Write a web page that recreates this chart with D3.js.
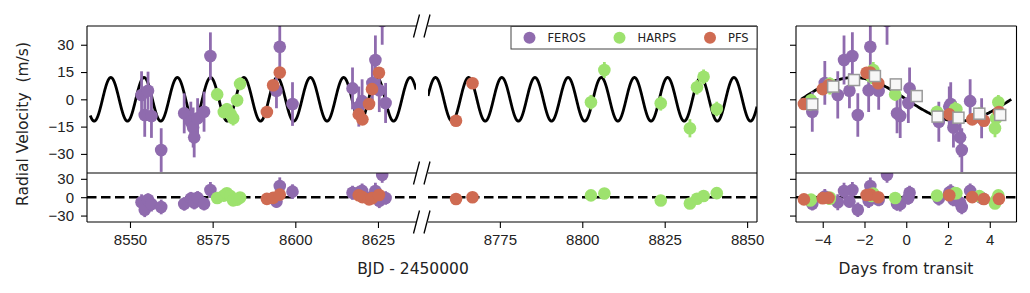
<!DOCTYPE html>
<html>
<head>
<meta charset="utf-8">
<script src="https://cdn.jsdelivr.net/npm/d3@7"></script>
<style>
body { margin: 0; background: #fff; }
svg { font-family: "DejaVu Sans", sans-serif; }
</style>
</head>
<body>
<div class="container"></div>
<script>
// orbit used for the model curve, the phase fold and the residuals
const P = 10.06, TC = 8556.78, K = 12;

const ferosT   = [8553.5, 8554.46, 8555.46, 8556.49, 8559.44, 8566.4, 8568.4, 8569.1, 8569.42, 8570.45, 8572.4, 8574.32, 8594.3, 8595.3, 8599.15, 8617.3, 8619.2, 8620.2, 8623.3, 8624.22, 8625.4, 8626.28, 8627.3];
const ferosRV  = [2.4, -8.6, 4.7, -9.2, -27.9, -7.7, -12.3, -15.5, -20.9, -10.4, -6.8, 23.8, 4.7, 28.9, -2.6, 6.0, -4.0, -1.0, 9.0, 21.6, 5.0, 43, -2.0];
const ferosErr = [13, 12, 10.5, 12, 12, 11, 11, 11, 11, 11, 11, 13, 9.6, 14, 12, 11.5, 11, 12, 12, 13.5, 12, 13, 11];

const harpsT   = [8576.37, 8578.37, 8579.3, 8580.4, 8581.2, 8582.4, 8583.3, 8802.63, 8806.7, 8823.8, 8832.65, 8834.8, 8836.8, 8840.8];
const harpsRV  = [2.7, -7.0, -5.5, -8.0, -10.4, -0.5, 8.5, -1.6, 16.1, -2.2, -15.9, 6.6, 12.4, -5.3];
const harpsErr = [3.5, 3.5, 3.5, 3.5, 4, 3.5, 3.5, 4, 4.4, 4, 5, 4, 4, 4];

const pfsT   = [8591.4, 8593.3, 8595.3, 8619.2, 8620.3, 8622.3, 8623.2, 8625.3, 8761.7, 8766.7];
const pfsRV  = [-7.0, 7.7, 14.7, -8.3, -11.0, -2.6, 5.6, 14.6, -11.8, 8.8];
const pfsErr = [1.5, 1.5, 1.5, 1.5, 1.5, 1.5, 1.5, 1.5, 1.5, 1.5];

const binPhase = [-4.5, -3.5, -2.5, -1.5, -0.5, 0.5, 1.5, 2.5, 3.5, 4.5];
const binRV    = [-2.7, 7.0, 10.6, 12.8, 8.2, 1.8, -9.5, -10.1, -7.9, -8.6];

const instNames = ["FEROS", "HARPS", "PFS"];
const instColors = ["#8f6bae", "#9de26e", "#cf6b52"];

const rvTicks = [-30, -15, 0, 15, 30];
const resTicks = [-30, 0, 30];
const timeTicksA = [8550, 8575, 8600, 8625];
const timeTicksB = [8775, 8800, 8825, 8850];
const phaseTicks = [-4, -2, 0, 2, 4];

const model = t => -K * Math.sin(2 * Math.PI * (t - TC) / P);
const phase = t => { let p = (((t - TC) % P) + P) % P; return p > P / 2 ? p - P : p; };

const insts = [
    {t: ferosT, rv: ferosRV, err: ferosErr},
    {t: harpsT, rv: harpsRV, err: harpsErr},
    {t: pfsT, rv: pfsRV, err: pfsErr}
].map((d, i) => ({
    name: instNames[i], color: instColors[i],
    pts: d.t.map((t, j) => ({t: t, ph: phase(t), rv: d.rv[j], res: d.rv[j] - model(t), err: d.err[j]}))
}));

const width = 1030, height = 293;
const svg = d3.select('.container').append('svg')
    .attr('width', width).attr('height', height);

const yTop = d3.scaleLinear().domain([-40.5, 40.3]).range([173, 26]);
const yRes = d3.scaleLinear().domain([-40.5, 39.5]).range([222, 173]);
const xA = d3.scaleLinear().domain([8537, 8636.5]).range([87, 416]);
const xB = d3.scaleLinear().domain([8753.2, 8853]).range([428, 757]);
const xPh = d3.scaleLinear().domain([-5.28, 5.28]).range([796, 1016.5]);

let clipN = 0;
const panel = (x, y, key, val) => {
    const id = 'clip' + (clipN++);
    const [x0, x1] = x.range(), [y1, y0] = y.range();
    svg.append('clipPath').attr('id', id).append('rect')
        .attr('x', x0).attr('y', y0).attr('width', x1 - x0).attr('height', y1 - y0);
    const g = svg.append('g').attr('clip-path', `url(#${id})`);

    if (val === 'rv') {
        const dom = key === 'ph' ? [-P / 2, P / 2] : [Math.max(x.domain()[0], 8538), x.domain()[1]];
        const xs = d3.range(dom[0], dom[1] + 0.02, 0.02);
        g.append('path')
            .datum(xs)
            .attr('fill', 'none').attr('stroke', '#000').attr('stroke-width', 2.8)
            .attr('d', d3.line().x(d => x(d)).y(d => y(model(key === 'ph' ? d + TC : d))));
    } else {
        g.append('line')
            .attr('x1', x0).attr('x2', x1).attr('y1', y(0)).attr('y2', y(0))
            .attr('stroke', '#000').attr('stroke-width', 2.6).attr('stroke-dasharray', '9.5,4.5');
    }

    insts.forEach(inst => {
        g.selectAll(null).data(inst.pts).enter().append('line')
            .attr('x1', d => x(d[key])).attr('x2', d => x(d[key]))
            .attr('y1', d => y(d[val] - d.err)).attr('y2', d => y(d[val] + d.err))
            .attr('stroke', inst.color).attr('stroke-width', 2.8);
        g.selectAll(null).data(inst.pts).enter().append('circle')
            .attr('cx', d => x(d[key])).attr('cy', d => y(d[val]))
            .attr('r', 6.3).attr('fill', inst.color);
    });

    if (key === 'ph' && val === 'rv') {
        g.selectAll(null).data(binPhase).enter().append('rect')
            .attr('x', (d, i) => x(d) - 5.5).attr('y', (d, i) => y(binRV[i]) - 5.5)
            .attr('width', 11).attr('height', 11)
            .attr('fill', '#f7f7f7').attr('stroke', '#9a9a9a').attr('stroke-width', 1.5);
    }
};

[xA, xB].forEach(x => { panel(x, yTop, 't', 'rv'); panel(x, yRes, 't', 'res'); });
panel(xPh, yTop, 'ph', 'rv');
panel(xPh, yRes, 'ph', 'res');

// spines
const spine = (x1, y1, x2, y2) => svg.append('line')
    .attr('x1', x1).attr('y1', y1).attr('x2', x2).attr('y2', y2)
    .attr('stroke', '#000').attr('stroke-width', 1.1);
[26, 173, 222].forEach(yy => {
    spine(87, yy, 416, yy);
    spine(428, yy, 757, yy);
    spine(796, yy, 1016.5, yy);
});
spine(87, 26, 87, 222);
spine(757, 26, 757, 222);
spine(796, 26, 796, 222);
spine(1016.5, 26, 1016.5, 222);

// break marks
[26, 173, 222].forEach(yy => [416.5, 427].forEach(cx => {
    svg.append('line')
        .attr('x1', cx - 3).attr('y1', yy + 11.5).attr('x2', cx + 3).attr('y2', yy - 11.5)
        .attr('stroke', '#000').attr('stroke-width', 1.3);
}));

// axes
const styleAxis = g => {
    g.select('.domain').remove();
    g.selectAll('.tick line').attr('stroke', '#000').attr('stroke-width', 1.1);
    g.selectAll('.tick text').attr('fill', '#222').style('font-size', '15px');
};
svg.append('g').attr('transform', 'translate(87,0)')
    .call(d3.axisLeft(yTop).tickValues(rvTicks).tickSize(6).tickPadding(7)).call(styleAxis);
svg.append('g').attr('transform', 'translate(87,0)')
    .call(d3.axisLeft(yRes).tickValues(resTicks).tickSize(6).tickPadding(7)).call(styleAxis);
svg.append('g').attr('transform', 'translate(796,0)')
    .call(d3.axisLeft(yTop).tickValues(rvTicks).tickSize(6).tickFormat('')).call(styleAxis);
svg.append('g').attr('transform', 'translate(796,0)')
    .call(d3.axisLeft(yRes).tickValues(resTicks).tickSize(6).tickFormat('')).call(styleAxis);
svg.append('g').attr('transform', 'translate(0,222)')
    .call(d3.axisBottom(xA).tickValues(timeTicksA).tickFormat(d3.format('d')).tickSize(6).tickPadding(6)).call(styleAxis);
svg.append('g').attr('transform', 'translate(0,222)')
    .call(d3.axisBottom(xB).tickValues(timeTicksB).tickFormat(d3.format('d')).tickSize(6).tickPadding(6)).call(styleAxis);
svg.append('g').attr('transform', 'translate(0,222)')
    .call(d3.axisBottom(xPh).tickValues(phaseTicks).tickSize(6).tickPadding(6)).call(styleAxis);

// axis labels
svg.append('text').attr('x', 413).attr('y', 274).attr('text-anchor', 'middle')
    .attr('fill', '#222').style('font-size', '15.5px').text('BJD - 2450000');
svg.append('text').attr('x', 906).attr('y', 274).attr('text-anchor', 'middle')
    .attr('fill', '#222').style('font-size', '15.5px').text('Days from transit');
svg.append('text').attr('transform', 'translate(28,124) rotate(-90)').attr('text-anchor', 'middle')
    .attr('fill', '#222').style('font-size', '15.5px').style('white-space', 'pre')
    .text('Radial Velocity  (m/s)');

// legend
const legend = svg.append('g');
legend.append('rect').attr('x', 511).attr('y', 26.5).attr('width', 246).attr('height', 22.5)
    .attr('fill', '#fff').attr('stroke', '#444').attr('stroke-width', 1);
const legX = [529.5, 619.5, 710];
instNames.forEach((n, i) => {
    legend.append('circle').attr('cx', legX[i]).attr('cy', 37.8).attr('r', 6).attr('fill', instColors[i]);
    legend.append('text').attr('x', legX[i] + 18).attr('y', 42).attr('fill', '#222')
        .style('font-size', '11.5px').text(n);
});
</script>
</body>
</html>
